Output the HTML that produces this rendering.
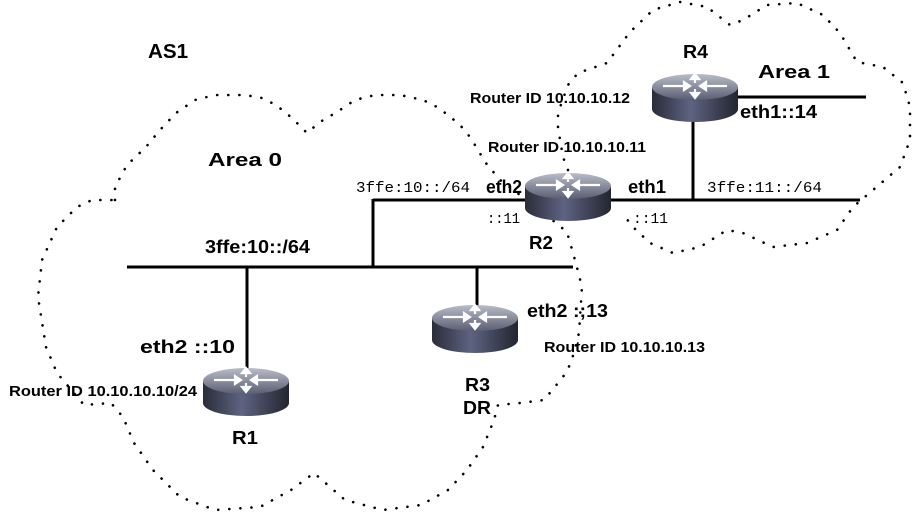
<!DOCTYPE html>
<html><head><meta charset="utf-8"><style>
html,body{margin:0;padding:0;background:#fff;width:916px;height:515px;overflow:hidden}
svg{display:block}
.b{font-family:"Liberation Sans",sans-serif;font-weight:bold;fill:#000}
.m{font-family:"Liberation Mono",monospace;fill:#000;font-size:15px}
.d{fill:none;stroke:#000;stroke-width:2.6;stroke-linecap:round;stroke-dasharray:0.1 11;stroke-linejoin:round}
</style></head><body>
<svg width="916" height="515" viewBox="0 0 916 515" xmlns="http://www.w3.org/2000/svg">
<defs>
<linearGradient id="body" x1="0" x2="1" y1="0" y2="0">
<stop offset="0" stop-color="#2a2c38"/><stop offset="0.45" stop-color="#5e6382"/><stop offset="1" stop-color="#23252f"/>
</linearGradient>
<linearGradient id="top" x1="0" x2="0" y1="0" y2="1">
<stop offset="0" stop-color="#b9bcc8"/><stop offset="1" stop-color="#5a5e72"/>
</linearGradient>
<g id="rt">
<path d="M-43,0 L-43,22 A43,13 0 0 0 43,22 L43,0 Z" fill="url(#body)"/>
<ellipse cx="0" cy="0" rx="43" ry="13" fill="url(#top)"/>
<g stroke="#fff" stroke-width="2.2" fill="#fff">
<line x1="-32" y1="-1" x2="-9" y2="-1"/><polygon points="-5,-1 -11,-5 -11,3"/>
<line x1="32" y1="-1" x2="9" y2="-1"/><polygon points="5,-1 11,-5 11,3"/>
<line x1="0" y1="-4" x2="0" y2="-11"/><polygon points="0,-13 -4,-8 4,-8"/>
<line x1="0" y1="2" x2="0" y2="8"/><polygon points="0,11 -4,6 4,6"/>
</g>
</g>
</defs>

<polyline class="d" points="115,200 115,187 127,165 146,147 160,130 176,113 195,100 215,95 245,95 262,98 276,105 292,118 307,133 320,122 337,112 355,100 375,95 400,95 423,100 437,107 448,115 460,125 470,137 478,150 485,162 500,180 540,210 567,232 575,260 582,287 579,333 571,363 563,377 544,400 520,403 498,405 494,420 483,447 467,470 448,490 421,505 383,510 345,500 314,473 291,490 260,507 215,510 180,497 153,470 134,443 123,417 111,403 84,405 57,373 46,347 38,297 42,260 57,227 77,207 92,200 115,200"/>
<polyline class="d" points="568,170 563,157 558,128 558,113 568,85 578,73 607,63 630,32 653,10 680,2 707,7 730,25 743,20 767,5 797,3 823,15 840,33 857,62 883,67 903,83 910,107 910,140 900,167 873,190 853,207 837,230 807,243 773,247 743,233 727,230 700,247 673,253 650,243 633,227 622,213"/>

<g stroke="#000" stroke-width="3" fill="none">
<line x1="127" y1="267" x2="573" y2="267"/>
<line x1="247" y1="267" x2="247" y2="370"/>
<line x1="373" y1="267" x2="373" y2="199"/>
<line x1="373" y1="200" x2="530" y2="200"/>
<line x1="477" y1="267" x2="477" y2="306"/>
<line x1="605" y1="200" x2="860" y2="200"/>
<line x1="693" y1="115" x2="693" y2="200"/>
<line x1="735" y1="97" x2="866" y2="97"/>
</g>

<use href="#rt" transform="translate(246,381)"/>
<use href="#rt" transform="translate(475,318)"/>
<use href="#rt" transform="translate(568,186)"/>
<use href="#rt" transform="translate(695,87)"/>

<g lengthAdjust="spacingAndGlyphs">
<text class="b" x="148" y="58" font-size="20" textLength="40" lengthAdjust="spacingAndGlyphs">AS1</text>
<text class="b" x="208" y="166" font-size="18" textLength="74" lengthAdjust="spacingAndGlyphs">Area 0</text>
<text class="b" x="758" y="78" font-size="18" textLength="72" lengthAdjust="spacingAndGlyphs">Area 1</text>
<text class="b" x="683" y="58" font-size="18" textLength="25" lengthAdjust="spacingAndGlyphs">R4</text>
<text class="b" x="470" y="103" font-size="15" textLength="160" lengthAdjust="spacingAndGlyphs">Router ID 10.10.10.12</text>
<text class="b" x="488" y="152" font-size="15" textLength="158" lengthAdjust="spacingAndGlyphs">Router ID 10.10.10.11</text>
<text class="m" x="356" y="192" textLength="114" lengthAdjust="spacingAndGlyphs">3ffe:10::/64</text>
<text class="b" x="486" y="193" font-size="18" textLength="36" lengthAdjust="spacingAndGlyphs">eth2</text>
<text class="m" x="487" y="223" textLength="33" lengthAdjust="spacingAndGlyphs">::11</text>
<text class="b" x="628" y="193" font-size="18" textLength="38" lengthAdjust="spacingAndGlyphs">eth1</text>
<text class="m" x="633" y="223" textLength="35" lengthAdjust="spacingAndGlyphs">::11</text>
<text class="m" x="707" y="192" textLength="115" lengthAdjust="spacingAndGlyphs">3ffe:11::/64</text>
<text class="b" x="740" y="118" font-size="18" textLength="77" lengthAdjust="spacingAndGlyphs">eth1::14</text>
<text class="b" x="529" y="249" font-size="18" textLength="24" lengthAdjust="spacingAndGlyphs">R2</text>
<text class="b" x="205" y="253" font-size="18" textLength="105" lengthAdjust="spacingAndGlyphs">3ffe:10::/64</text>
<text class="b" x="527" y="317" font-size="18" textLength="81" lengthAdjust="spacingAndGlyphs">eth2 :;13</text>
<text class="b" x="544" y="352" font-size="15" textLength="161" lengthAdjust="spacingAndGlyphs">Router ID 10.10.10.13</text>
<text class="b" x="140" y="353" font-size="18" textLength="95" lengthAdjust="spacingAndGlyphs">eth2 ::10</text>
<text class="b" x="9" y="396" font-size="15" textLength="188" lengthAdjust="spacingAndGlyphs">Router ID 10.10.10.10/24</text>
<text class="b" x="232" y="444" font-size="18" textLength="26" lengthAdjust="spacingAndGlyphs">R1</text>
<text class="b" x="465" y="391" font-size="18" textLength="25" lengthAdjust="spacingAndGlyphs">R3</text>
<text class="b" x="463" y="414" font-size="18" textLength="28" lengthAdjust="spacingAndGlyphs">DR</text>
</g>
</svg>
</body></html>
